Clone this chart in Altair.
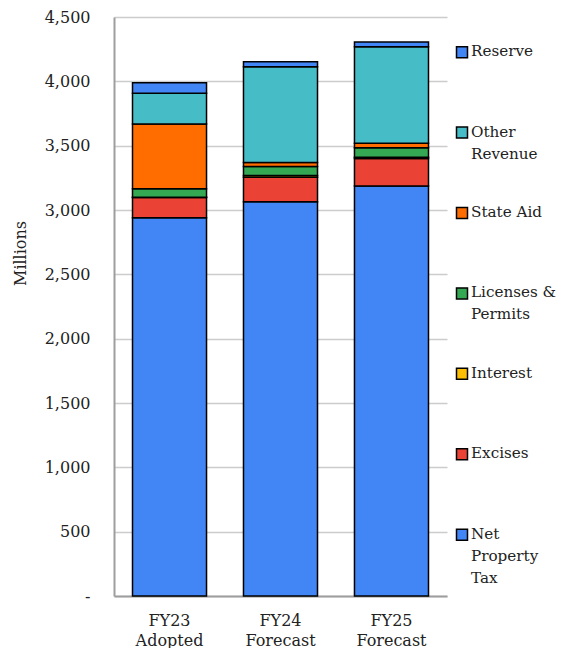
import altair as alt
import pandas as pd

FONT = "DejaVu Serif"

categories = ["FY23 Adopted", "FY24 Forecast", "FY25 Forecast"]
series = ["Net Property Tax", "Excises", "Interest", "Licenses & Permits",
          "State Aid", "Other Revenue", "Reserve"]
colors = ["#4285F4", "#EA4335", "#FBBC04", "#34A853", "#FF6D01", "#46BDC6", "#4285F4"]

net_property_tax = [2940, 3064, 3187]
excises = [157, 190, 213]
interest = [2, 15, 10]
licenses_permits = [66, 70, 74]
state_aid = [503, 30, 34]
other_revenue = [239, 745, 751]
reserve = [82, 38, 37]

legend_order = ["Reserve", "Other Revenue", "State Aid", "Licenses & Permits",
                "Interest", "Excises", "Net Property Tax"]
legend_text = ["Reserve", "Other\nRevenue", "State Aid", "Licenses &\nPermits",
               "Interest", "Excises", "Net\nProperty\nTax"]

y_ticks = [0, 500, 1000, 1500, 2000, 2500, 3000, 3500, 4000, 4500]

all_values = [net_property_tax, excises, interest, licenses_permits,
              state_aid, other_revenue, reserve]
rows = []
for si, (name, vals) in enumerate(zip(series, all_values)):
    for cat, v in zip(categories, vals):
        rows.append({"cat": cat, "series": name, "value": v, "order": si})
df = pd.DataFrame(rows)

legend_df = pd.DataFrame({"series": legend_order, "label": legend_text})

color_scale = alt.Scale(domain=series, range=colors)

bars = alt.Chart(df).mark_bar(stroke="black", strokeWidth=1.5).encode(
    x=alt.X("cat:N", sort=categories,
            scale=alt.Scale(paddingInner=0.333, paddingOuter=0.1667),
            axis=alt.Axis(title=None, labelAngle=0, labelExpr="split(datum.label, ' ')",
                          labelLineHeight=20, labelPadding=16, ticks=False, tickSize=0,
                          domainColor="#9e9e9e", domainWidth=2, grid=False,
                          labelFont=FONT, labelFontSize=16, labelColor="#222222")),
    y=alt.Y("value:Q", stack="zero",
            scale=alt.Scale(domain=[0, 4500], nice=False),
            axis=alt.Axis(values=y_ticks, title="Millions",
                          labelExpr="datum.value == 0 ? '-' : format(datum.value, ',')",
                          ticks=False, tickSize=0, labelPadding=24,
                          domainColor="#9e9e9e", domainWidth=2,
                          gridColor="#cccccc", gridWidth=1.5,
                          labelFont=FONT, labelFontSize=16, labelColor="#222222",
                          titleFont=FONT, titleFontSize=16, titleFontWeight="normal",
                          titleColor="#222222", titleAngle=270, titleBaseline="middle",
                          titleAlign="center", titleX=-94, titleY=236)),
    color=alt.Color("series:N", scale=color_scale, legend=None),
    order=alt.Order("order:Q", sort="ascending"),
).properties(width=333, height=579)

leg_y = alt.Y("series:N", sort=legend_order,
              scale=alt.Scale(type="point", padding=0.6, align=0.364), axis=None)

leg_sym = alt.Chart(legend_df).mark_square(size=121, stroke="black", strokeWidth=1.5,
                                           opacity=1, filled=True).encode(
    x=alt.value(15), y=leg_y,
    color=alt.Color("series:N", scale=color_scale, legend=None),
)
leg_txt = alt.Chart(legend_df).mark_text(align="left", baseline="top", dy=-8,
                                         lineBreak="\n", lineHeight=22, font=FONT,
                                         fontSize=15.2, color="#222222").encode(
    x=alt.value(24), y=leg_y, text="label:N",
)
legend = alt.layer(leg_sym, leg_txt).properties(width=104, height=579)

chart = alt.hconcat(bars, legend, spacing=0).properties(
    padding={"left": 4, "top": 1, "right": 0, "bottom": 0}
).configure(font=FONT).configure_view(stroke=None)

chart.save("out.html", embed_options={"renderer": "svg", "actions": False})
